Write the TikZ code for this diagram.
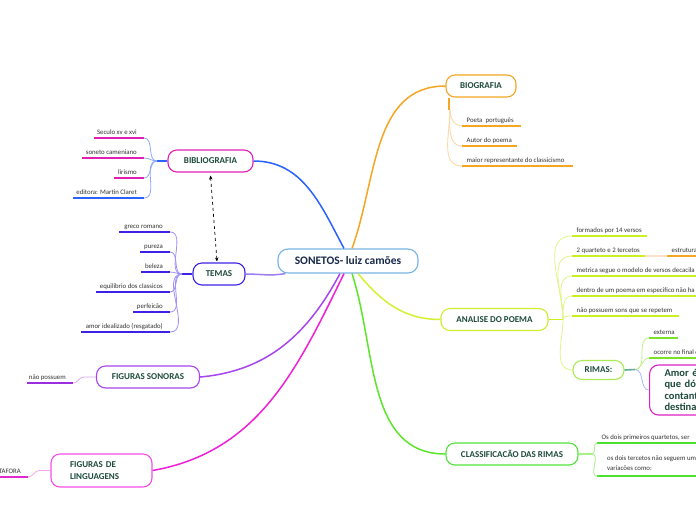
\documentclass[tikz,border=0pt]{standalone}
\usepackage{fontspec}
\setmainfont{Carlito}
\usetikzlibrary{arrows.meta}
\definecolor{tg}{HTML}{1E4A3C}
\definecolor{navy}{HTML}{18294A}
\definecolor{leafc}{HTML}{333333}
\definecolor{cb}{HTML}{78B4E3}
\definecolor{orng}{HTML}{F5A623}
\definecolor{orngl}{HTML}{FAD7A0}
\definecolor{magb}{HTML}{E11FB5}
\definecolor{blu}{HTML}{2962FF}
\definecolor{blul}{HTML}{90A8F8}
\definecolor{tem}{HTML}{3D22E6}
\definecolor{teml}{HTML}{A090F8}
\definecolor{temc}{HTML}{9A7EF0}
\definecolor{son}{HTML}{A646EE}
\definecolor{sonu}{HTML}{9B2FE0}
\definecolor{sonl}{HTML}{D9A8F2}
\definecolor{lin}{HTML}{F54FE8}
\definecolor{linc}{HTML}{F020D8}
\definecolor{linu}{HTML}{E02ACC}
\definecolor{linl}{HTML}{F5A8EE}
\definecolor{ana}{HTML}{CCEF2E}
\definecolor{anac}{HTML}{D4F030}
\definecolor{anau}{HTML}{C9F020}
\definecolor{anal}{HTML}{E0F58A}
\definecolor{pch}{HTML}{FCE0C8}
\definecolor{rim}{HTML}{A8EC55}
\definecolor{rims}{HTML}{5FAF90}
\definecolor{rimu}{HTML}{7BE22A}
\definecolor{riml}{HTML}{C0F08A}
\definecolor{amb}{HTML}{A7BCF5}
\definecolor{amor}{HTML}{E021C2}
\definecolor{cls}{HTML}{50E43A}
\definecolor{clsc}{HTML}{5CE52A}
\definecolor{clsu}{HTML}{4EE030}
\definecolor{clsl}{HTML}{A6F08A}
\newcommand\leafR[6]{%
  \coordinate (#1a) at (#2,#4); \coordinate (#1b) at (#3,#4);
  \draw[uline,#5] (#1a) -- (#1b);
  \node[leaf,anchor=base west] (#1) at ([xshift=4.5pt,yshift=3.5pt]#1a) {#6};}
\newcommand\leafL[6]{%
  \coordinate (#1a) at (#2,#4); \coordinate (#1b) at (#3,#4);
  \draw[uline,#5] (#1a) -- (#1b);
  \node[leaf,anchor=base east] (#1) at ([xshift=-7pt,yshift=3.5pt]#1b) {#6};}
\begin{document}
\begin{tikzpicture}[x=1pt,y=-1pt,
  box/.style={draw, rounded corners=9pt, fill=white, line width=1.1pt, text=tg,
    font=\bfseries\fontsize{9}{10}\selectfont, minimum height=22pt, inner sep=0pt, align=center},
  leaf/.style={font=\fontsize{6.8}{8}\selectfont, text=leafc, inner sep=0pt},
  uline/.style={line width=1.6pt},
  conn/.style={line width=0.8pt},
  mainc/.style={line width=1.5pt}]
\useasboundingbox (0,0) rectangle (696,520);
\clip (0,0) rectangle (696,520);
\fill[white] (0,0) rectangle (696,520);

% main nodes
\node[box, draw=cb, text=navy, font=\bfseries\fontsize{11.5}{12}\selectfont,
  minimum width=140pt, minimum height=24pt, rounded corners=10pt] (c) at (348,261) {SONETOS- luiz camões};
\node[box, draw=orng, minimum width=70pt] (bio) at (481,86) {BIOGRAFIA};
\node[box, draw=magb, minimum width=85pt] (bib) at (210.5,161) {BIBLIOGRAFIA};
\node[box, draw=tem, minimum width=52pt] (temas) at (219,274) {TEMAS};
\node[box, draw=son, minimum width=103pt] (fson) at (148,377) {FIGURAS SONORAS};
\node[box, draw=lin, minimum height=33pt, text width=63pt, align=left, inner xsep=19pt,
  font=\bfseries\fontsize{9}{11.5}\selectfont] (fling) at (101.5,470.5) {FIGURAS DE\\LINGUAGENS};
\node[box, draw=ana, minimum width=107pt] (anal) at (494.5,319.5) {ANALISE DO POEMA};
\node[box, draw=rim, minimum width=51pt, minimum height=19pt] (rimas) at (598.5,370) {RIMAS:};
\node[box, draw=amor, anchor=west, minimum height=50pt, minimum width=90pt, text width=60pt,
  align=left, inner xsep=15pt, font=\bfseries\fontsize{10.5}{11.5}\selectfont] (amorb) at (649,390)
  {Amor é f\\que dói\\contant\\destina};
\node[box, draw=cls, minimum width=132pt] (cls) at (512,454) {CLASSIFICACÃO DAS RIMAS};

% main connectors
\draw[mainc, orng] ([xshift=4pt]c.north) to[out=70,in=180] (bio.west);
\draw[mainc, blu] (bib.east) to[out=0,in=118] ([xshift=-4pt]c.north);
\draw[mainc, temc] (temas.east) to[out=0,in=190] ([xshift=8pt]c.south west);
\draw[mainc, son] ([xshift=-8pt]c.south) to[out=-118,in=5] (fson.east);
\draw[mainc, linc] ([xshift=-4pt]c.south) to[out=-116,in=10] (fling.east);
\draw[mainc, anac] ([xshift=10pt]c.south) to[out=-50,in=180] (anal.west);
\draw[mainc, clsc] ([xshift=4pt]c.south) to[out=-72,in=180] (cls.west);

% dashed link
\draw[dashed, line width=0.7pt, {Stealth[length=4pt,width=3.5pt]}-{Stealth[length=4pt,width=3.5pt]}]
  ([yshift=-3pt]bib.south) -- ([xshift=-2pt,yshift=1pt]temas.north);

% BIOGRAFIA leaves
\coordinate (bioh) at (449,110);
\draw[line width=2pt, orng] ([xshift=-32pt]bio.south) -- (bioh);
\leafR{b1}{462}{521}{126}{orng}{Poeta\ \ português}
\leafR{b2}{462}{517}{146}{orng}{Autor do poema}
\leafR{b3}{462}{573}{166}{orng}{maior representante do classicismo}
\foreach \n in {b1,b2,b3}{\draw[conn, orngl] ([xshift=1pt]bioh) to[out=-90,in=180] (\n a);}

% BIBLIOGRAFIA leaves
\coordinate (bibh) at (157,161);
\draw[line width=1.6pt, blu] (bib.west) -- (bibh);
\leafL{l1}{94}{144}{138}{magb}{Seculo xv e xvi}
\leafL{l2}{82}{144}{158}{magb}{soneto cameniano}
\leafL{l3}{114}{144}{178}{magb}{lirismo}
\leafL{l4}{73}{144}{198}{blu}{editora: Martin Claret}
\foreach \n in {l1,l2,l3,l4}{\draw[conn, blul] (bibh) to[out=180,in=0] (\n b);}

% TEMAS leaves
\coordinate (temh) at (182,274);
\draw[line width=2pt, tem] (temas.west) -- (temh);
\leafL{t1}{119}{170}{232}{tem}{greco romano}
\leafL{t2}{140}{170}{252}{tem}{pureza}
\leafL{t3}{141}{170}{272}{tem}{beleza}
\leafL{t4}{96}{170}{292}{tem}{equilibrio dos classicos}
\leafL{t5}{133}{170}{312}{tem}{perfeicão}
\leafL{t6}{81}{170}{332}{tem}{amor idealizado (resgatado)}
\foreach \n in {t1,t2,t3,t4,t5,t6}{\draw[conn, teml] (temh) to[out=180,in=0] (\n b);}

% FIGURAS SONORAS leaf
\leafL{s1}{27}{73}{383}{sonu}{não possuem}
\draw[conn, sonl] (s1b) to[out=0,in=180] ([xshift=-12pt]fson.west) -- (fson.west);

% FIGURAS DE LINGUAGENS leaf
\leafL{f1}{-10}{28}{477}{linu}{METAFORA}
\draw[conn, linl] (f1b) to[out=0,in=180] ([xshift=-11pt]fling.west) -- (fling.west);

% ANALISE leaves
\coordinate (anh) at (563,319.5);
\draw[line width=1.6pt, anau] (anal.east) -- (anh);
\leafR{a1}{572}{647}{236}{anau}{formados por 14 versos}
\leafR{a2}{572}{645}{256}{anau}{2 quarteto e 2 tercetos}
\leafR{a3}{572}{700}{276}{anau}{metrica segue o modelo de versos decacila}
\leafR{a4}{572}{700}{296}{anau}{dentro de um poema em especifico não ha}
\leafR{a5}{572}{679}{316}{anau}{não possuem sons que se repetem}
\foreach \n in {a1,a2,a3,a4,a5}{\draw[conn, anal] (anh) to[out=90,in=180] (\n a);}
\leafR{e1}{667}{700}{256}{orng}{estrutura}
\draw[line width=1.6pt, pch] (a2b) -- (e1a);
\draw[conn, anal] (anh) to[out=-90,in=180] (rimas.west);

% RIMAS leaves
\coordinate (rimh) at (635,369.5);
\draw[line width=1.6pt, rims] (rimas.east) -- (rimh);
\leafR{r1}{649}{678}{338}{rimu}{externa}
\leafR{r2}{649}{700}{358}{rimu}{ocorre no final d}
\foreach \n in {r1,r2}{\draw[conn, riml] (rimh) to[out=0,in=180] (\n a);}
\draw[conn, amb] (rimh) to[out=0,in=180] (amorb.west);

% CLASSIFICACAO leaves
\coordinate (clh) at (592,454);
\draw[line width=1.6pt, clsl] (cls.east) -- (clh);
\leafR{k1}{597}{700}{443}{clsu}{Os dois primeiros quartetos, ser}
\coordinate (k2a) at (597,476); \coordinate (k2b) at (700,476);
\draw[uline, clsu] (k2a) -- (k2b);
\node[leaf, anchor=north west, align=left, font=\fontsize{6.8}{9.5}\selectfont] (k2) at (607,456) {os dois tercetos não seguem um\\variacões como:};
\foreach \n in {k1,k2}{\draw[conn, clsl] (clh) to[out=0,in=180] (\n a);}
\end{tikzpicture}
\end{document}
